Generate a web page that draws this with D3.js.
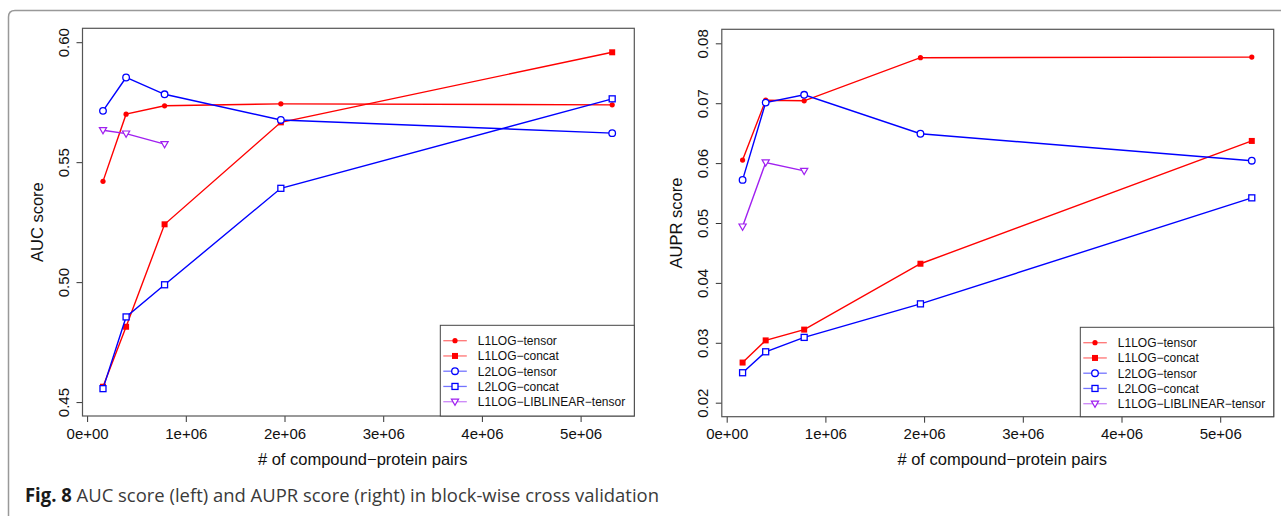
<!DOCTYPE html>
<html>
<head>
<meta charset="utf-8">
<script src="https://cdn.jsdelivr.net/npm/d3@7"></script>
<style>
  html, body { margin: 0; padding: 0; background: #fff; }
  svg { display: block; }
  text { font-family: "Liberation Sans", Arial, sans-serif; }
</style>
</head>
<body>
<div id="vis"></div>
<script>
// x values: number of compound-protein pairs
const pairs = [161000, 395000, 785000, 1963000, 5320000]

// AUC scores (left panel)
const aucL1Tensor = [0.542, 0.570, 0.5735, 0.5743, 0.5739]
const aucL1Concat = [0.4564, 0.4814, 0.5241, 0.5666, 0.5958]
const aucL2Tensor = [0.5714, 0.5853, 0.5783, 0.5676, 0.5621]
const aucL2Concat = [0.4556, 0.4855, 0.4989, 0.5391, 0.5764]
const aucLiblinear = [0.5633, 0.5619, 0.5575]

// AUPR scores (right panel)
const auprL1Tensor = [0.0605, 0.0705, 0.0704, 0.0776, 0.0777]
const auprL1Concat = [0.0267, 0.0304, 0.0322, 0.0432, 0.0637]
const auprL2Tensor = [0.0572, 0.0701, 0.0714, 0.0649, 0.0604]
const auprL2Concat = [0.0250, 0.0285, 0.0309, 0.0365, 0.0542]
const auprLiblinear = [0.0494, 0.0601, 0.0587]

const seriesNames = ['L1LOG\u2212tensor', 'L1LOG\u2212concat', 'L2LOG\u2212tensor', 'L2LOG\u2212concat', 'L1LOG\u2212LIBLINEAR\u2212tensor']
const xTicks = [0, 1e6, 2e6, 3e6, 4e6, 5e6]
const xTickLabels = ['0e+00', '1e+06', '2e+06', '3e+06', '4e+06', '5e+06']
const aucTicks = [0.45, 0.50, 0.55, 0.60]
const auprTicks = [0.02, 0.03, 0.04, 0.05, 0.06, 0.07, 0.08]

const styles = [
  { color: '#ff0000', shape: 'dot' },
  { color: '#ff0000', shape: 'fsquare' },
  { color: '#0000ff', shape: 'ocircle' },
  { color: '#0000ff', shape: 'osquare' },
  { color: '#a020f0', shape: 'otri' }
]

const width = 1281
const height = 516

const svg = d3.select('#vis').append('svg')
  .attr('width', width)
  .attr('height', height)

// card border with rounded top-left corner
svg.append('path')
  .attr('d', 'M8.5,516 V17 Q8.5,10.5 15,10.5 H1281')
  .attr('fill', 'none')
  .attr('stroke', '#999')
  .attr('stroke-width', 1.5)

function marker(g, shape, color, x, y) {
  if (shape === 'dot') {
    g.append('circle').attr('cx', x).attr('cy', y).attr('r', 2.6).attr('fill', color)
  } else if (shape === 'fsquare') {
    g.append('rect').attr('x', x - 3).attr('y', y - 3).attr('width', 6).attr('height', 6).attr('fill', color)
  } else if (shape === 'ocircle') {
    g.append('circle').attr('cx', x).attr('cy', y).attr('r', 3.3)
      .attr('fill', '#fff').attr('stroke', color).attr('stroke-width', 1.3)
  } else if (shape === 'osquare') {
    g.append('rect').attr('x', x - 3).attr('y', y - 3).attr('width', 6).attr('height', 6)
      .attr('fill', '#fff').attr('stroke', color).attr('stroke-width', 1.3)
  } else if (shape === 'otri') {
    g.append('path')
      .attr('d', `M${x - 3.6},${y - 2.6} L${x + 3.6},${y - 2.6} L${x},${y + 3.6} Z`)
      .attr('fill', '#fff').attr('stroke', color).attr('stroke-width', 1.2)
  }
}

function drawPanel({ box, xDomain, yDomain, yTicks, yFormat, yTitle, series, legend }) {
  const xScale = d3.scaleLinear().domain(xDomain).range([box.left, box.right])
  const yScale = d3.scaleLinear().domain(yDomain).range([box.bottom, box.top])

  const g = svg.append('g')

  // x axis
  const xAxis = d3.axisBottom(xScale)
    .tickValues(xTicks)
    .tickFormat((d, i) => xTickLabels[i])
    .tickSize(6)
    .tickPadding(6)
  const xAxisG = g.append('g')
    .attr('transform', `translate(0,${box.bottom})`)
    .call(xAxis)
  xAxisG.select('.domain').remove()
  xAxisG.selectAll('line').attr('stroke', '#333')
  xAxisG.selectAll('text')
    .style('font-size', '15px')
    .attr('fill', '#111')

  // y axis with rotated labels
  const yAxis = d3.axisLeft(yScale)
    .tickValues(yTicks)
    .tickFormat(yFormat)
    .tickSize(6)
  const yAxisG = g.append('g')
    .attr('transform', `translate(${box.left},0)`)
    .call(yAxis)
  yAxisG.select('.domain').remove()
  yAxisG.selectAll('line').attr('stroke', '#333')
  yAxisG.selectAll('text')
    .attr('x', null).attr('dy', null)
    .attr('transform', 'translate(-13.5,0) rotate(-90)')
    .attr('text-anchor', 'middle')
    .style('font-size', '15px')
    .attr('fill', '#111')

  // axis titles
  g.append('text')
    .attr('x', (xScale(xTicks[0]) + box.right) / 2 + 2)
    .attr('y', 465)
    .attr('text-anchor', 'middle')
    .style('font-size', '16.5px')
    .attr('fill', '#111')
    .text('# of compound\u2212protein pairs')

  g.append('text')
    .attr('transform', `translate(${box.left - 40},${(box.top + box.bottom) / 2}) rotate(-90)`)
    .attr('text-anchor', 'middle')
    .style('font-size', '16.5px')
    .attr('fill', '#111')
    .text(yTitle)

  // series
  series.forEach((values, i) => {
    const st = styles[i]
    const pts = values.map((v, j) => [xScale(pairs[j]), yScale(v)])
    g.append('path')
      .attr('d', d3.line()(pts))
      .attr('fill', 'none')
      .attr('stroke', st.color)
      .attr('stroke-width', 1.4)
    pts.forEach(p => marker(g, st.shape, st.color, p[0], p[1]))
  })

  // plot box
  g.append('rect')
    .attr('x', box.left).attr('y', box.top)
    .attr('width', box.right - box.left).attr('height', box.bottom - box.top)
    .attr('fill', 'none')
    .attr('stroke', '#555')
    .attr('stroke-width', 1.2)

  // legend
  const lg = g.append('g')
  lg.append('rect')
    .attr('x', legend.left).attr('y', legend.top)
    .attr('width', box.right - legend.left).attr('height', box.bottom - legend.top)
    .attr('fill', '#fff')
    .attr('stroke', '#444')
    .attr('stroke-width', 1)
  seriesNames.forEach((name, i) => {
    const st = styles[i]
    const y = legend.top + 15.4 + i * 15.25
    const x0 = legend.left + 3
    lg.append('line')
      .attr('x1', x0).attr('x2', x0 + 23.5)
      .attr('y1', y).attr('y2', y)
      .attr('stroke', st.color)
      .attr('stroke-opacity', 0.55)
      .attr('stroke-width', 1.3)
    marker(lg, st.shape, st.color, x0 + 11.7, y)
    lg.append('text')
      .attr('x', legend.left + 37.5)
      .attr('y', y + 4.3)
      .style('font-size', '12px')
      .attr('fill', '#111')
      .text(name)
  })
}

drawPanel({
  box: { left: 82.5, right: 634.3, top: 28.3, bottom: 416 },
  xDomain: [-46600, 5544000],
  yDomain: [0.4442, 0.6058],
  yTicks: aucTicks,
  yFormat: d3.format('.2f'),
  yTitle: 'AUC score',
  series: [aucL1Tensor, aucL1Concat, aucL2Tensor, aucL2Concat, aucLiblinear],
  legend: { left: 440.3, top: 325.3 }
})

drawPanel({
  box: { left: 721.8, right: 1273.7, top: 29.3, bottom: 416.7 },
  xDomain: [-49600, 5542000],
  yDomain: [0.01766, 0.08234],
  yTicks: auprTicks,
  yFormat: d3.format('.2f'),
  yTitle: 'AUPR score',
  series: [auprL1Tensor, auprL1Concat, auprL2Tensor, auprL2Concat, auprLiblinear],
  legend: { left: 1080.3, top: 327.3 }
})

// caption: bold figure label followed by the description, in one text element
const cap = svg.append('text')
  .attr('x', 25).attr('y', 502)
  .attr('textLength', 634).attr('lengthAdjust', 'spacingAndGlyphs')
  .style('font-family', '"Open Sans", "Noto Sans", sans-serif')
  .style('font-size', '19px')
cap.append('tspan')
  .style('font-weight', 'bold')
  .attr('fill', '#1a1a1a')
  .text('Fig. 8 ')
cap.append('tspan')
  .attr('fill', '#3a3a3a')
  .text('AUC score (left) and AUPR score (right) in block-wise cross validation')
</script>
</body>
</html>
